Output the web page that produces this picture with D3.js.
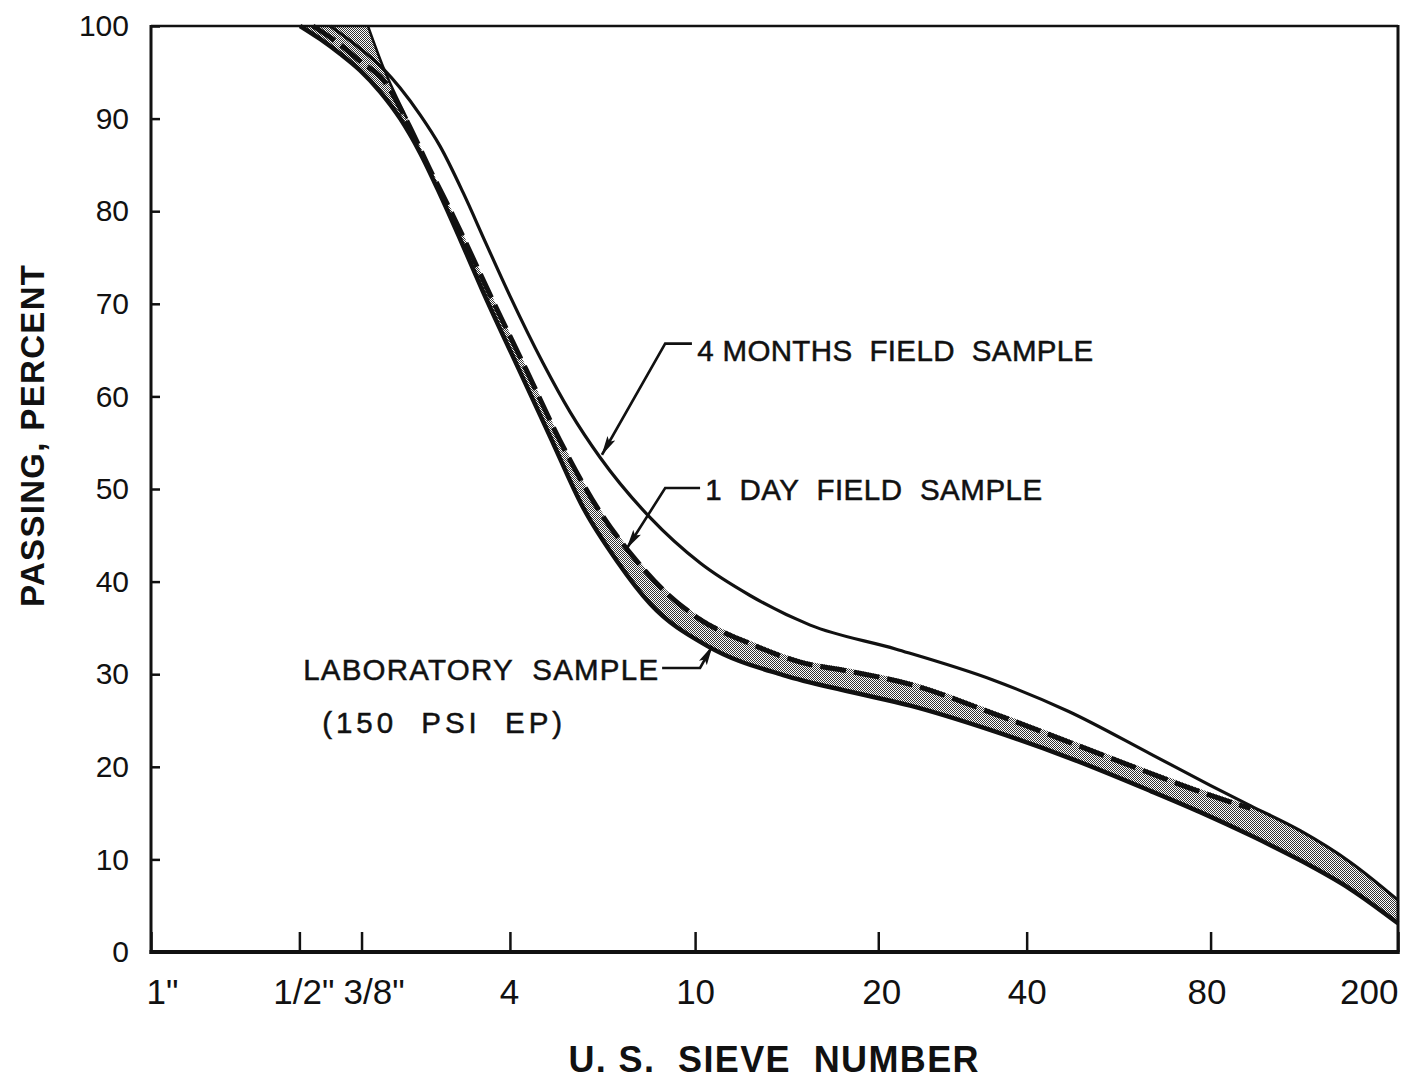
<!DOCTYPE html>
<html><head><meta charset="utf-8">
<script src="https://cdn.jsdelivr.net/npm/d3@7"></script>
<style>body{margin:0;background:#fff}text{font-family:"Liberation Sans",Arial,sans-serif;fill:#111}</style>
</head><body><svg id="c" width="1405" height="1081"></svg>
<script>
// ---- tick data ----
const sieveSizes = [25.4, 12.7, 9.5, 4.75, 2.0, 0.85, 0.425, 0.18, 0.075]; // sieve opening, mm
const sieveLabels = ['1"', '1/2"', '3/8"', '4', '10', '20', '40', '80', '200'];
const yTicks = [0, 10, 20, 30, 40, 50, 60, 70, 80, 90, 100];

// ---- series: 4 months field sample ----
const fourMonthsMm  = [11.00, 9.79, 8.59, 7.93, 7.225, 6.58, 5.91, 5.31, 4.745, 4.07, 3.585, 3.117, 2.467, 1.953, 1.547, 1.168, 0.7816, 0.499, 0.350, 0.2385, 0.1803, 0.1495, 0.1184, 0.0937, 0.075];
const fourMonthsPct = [100, 98.0, 95.4, 93.3, 90.4, 87.0, 82.0, 76.5, 70.8, 63.6, 58.3, 53.4, 46.9, 42.0, 38.5, 35.3, 32.7, 29.4, 26.0, 21.4, 18.0, 15.8, 13.1, 9.7, 5.6];

// ---- series: 1 day field sample (dashed) ----
const oneDayMm  = [11.92, 10.50, 9.565, 8.59, 7.68, 6.90, 6.22, 5.14, 4.385, 3.757, 3.117, 2.672, 2.30, 1.953, 1.547, 1.224, 0.969, 0.732, 0.499, 0.350, 0.2385, 0.1889, 0.1495];
const oneDayPct = [100, 98.0, 96.2, 94.2, 89.7, 84.5, 79.7, 70.3, 62.7, 55.2, 47.5, 42.7, 38.9, 35.9, 33.3, 31.3, 30.3, 28.9, 25.8, 22.7, 19.3, 17.3, 15.5];

// ---- laboratory sample band (150 psi EP): upper and lower limits ----
const labUpperMm  = [9.22, 8.59, 7.68, 6.90, 6.22, 5.14, 4.385, 3.757, 3.117, 2.672, 2.30, 1.953, 1.547, 1.224, 0.969, 0.732, 0.499, 0.350, 0.2385, 0.1889, 0.1495, 0.1184, 0.0937, 0.075];
const labUpperPct = [100, 95.6, 90.0, 84.8, 80.0, 70.6, 63.0, 55.5, 47.8, 43.0, 39.2, 36.2, 33.6, 31.6, 30.6, 29.2, 26.1, 23.0, 19.6, 17.6, 15.7, 13.1, 9.7, 5.6];
const labLowerMm  = [12.66, 11.53, 10.50, 9.565, 8.71, 7.93, 7.225, 6.58, 5.995, 5.385, 4.59, 3.94, 3.375, 2.879, 2.467, 1.882, 1.325, 0.969, 0.732, 0.499, 0.350, 0.2385, 0.1889, 0.1495, 0.1184, 0.0937, 0.075];
const labLowerPct = [100, 98.6, 97.0, 95.2, 92.9, 90.0, 86.3, 81.8, 77.0, 71.3, 63.3, 55.7, 48.0, 42.2, 37.6, 33.0, 29.9, 28.1, 26.6, 23.9, 21.0, 17.4, 15.1, 12.6, 9.9, 6.8, 3.1];

// ---- annotation anchors (data units: [mm, percent]) ----
const annotations = [
  {label: "4 MONTHS  FIELD  SAMPLE", anchor: "start", text: [1.98, 63.8], path: [[2.03, 65.7], [2.30, 65.7], [3.09, 53.7]], width: 396},
  {label: "1  DAY  FIELD  SAMPLE", anchor: "start", text: [1.908, 48.8], path: [[1.954, 50.1], [2.30, 50.1], [2.75, 43.6]], width: 337},
  {label: "LABORATORY  SAMPLE", anchor: "end", text: [2.377, 29.37], path: [[2.333, 30.67], [1.954, 30.67], [1.847, 33.0]], width: 355},
  {label: "(150  PSI  EP)", anchor: "start", text: [11.42, 23.6], path: null, width: 240}
];

const svg = d3.select("#c");
const L = 151, R = 1398, T = 26, B = 952;
const x = d3.scaleLog().domain([25.4, 0.075]).range([L, R]);
const y = d3.scaleLinear().domain([0, 100]).range([B, T]);
const ink = "#111";

const defs = svg.append("defs");
const pat = defs.append("pattern").attr("id", "stip").attr("width", 2).attr("height", 2).attr("patternUnits", "userSpaceOnUse");
pat.append("rect").attr("width", 2).attr("height", 2).attr("fill", "#fff");
pat.append("rect").attr("width", 1).attr("height", 1).attr("fill", "#333");
pat.append("rect").attr("x", 1).attr("y", 1).attr("width", 1).attr("height", 1).attr("fill", "#333");
defs.append("marker").attr("id", "arr").attr("markerUnits", "userSpaceOnUse")
  .attr("viewBox", "0 0 20 10").attr("refX", 19).attr("refY", 5)
  .attr("markerWidth", 20).attr("markerHeight", 10).attr("orient", "auto")
  .append("path").attr("d", "M0,0.5 L20,5 L0,9.5 L4,5 Z").attr("fill", ink);

const zip = (a, b) => a.map((v, i) => [v, b[i]]);
const line = d3.line().x(d => x(d[0])).y(d => y(d[1])).curve(d3.curveMonotoneX);

const upper = zip(labUpperMm, labUpperPct);
const lower = zip(labLowerMm, labLowerPct);
const plot = svg.append("g");

// band fill
plot.append("path")
  .attr("d", line(upper) + line(lower.slice().reverse()).replace(/^M/, "L") + "Z")
  .attr("fill", "url(#stip)").attr("stroke", "none");
// solid upper limit where the dashed field curve does not run along it
plot.append("path").attr("d", line(upper.filter(d => d[0] >= 7.6))).attr("fill", "none").attr("stroke", ink).attr("stroke-width", 2.5);
plot.append("path").attr("d", line(lower)).attr("fill", "none").attr("stroke", ink).attr("stroke-width", 4.5);
plot.append("path").attr("d", line(zip(oneDayMm, oneDayPct))).attr("fill", "none").attr("stroke", ink)
  .attr("stroke-width", 5).attr("stroke-dasharray", "26,8");
plot.append("path").attr("d", line(zip(fourMonthsMm, fourMonthsPct))).attr("fill", "none").attr("stroke", ink).attr("stroke-width", 3.2);

// axes
const yAxis = svg.append("g").attr("transform", `translate(${L},0)`)
  .call(d3.axisLeft(y).tickValues(yTicks).tickSize(-9).tickPadding(22));
yAxis.select(".domain").remove();
yAxis.selectAll(".tick line").attr("stroke", ink).attr("stroke-width", 2.5);
yAxis.selectAll(".tick text").attr("font-size", 30).attr("font-family", "DejaVu Sans, sans-serif").attr("fill", ink);

const dxMap = {'1"': -5, '1/2"': 4, '3/8"': 12, '4': -1, '10': 0, '20': 3, '40': 0, '80': -4, '200': 0};
const xAxis = svg.append("g").attr("transform", `translate(0,${B})`)
  .call(d3.axisBottom(x).tickValues(sieveSizes).tickFormat((d, i) => sieveLabels[i]).tickSize(-20).tickPadding(27));
xAxis.select(".domain").remove();
xAxis.selectAll(".tick line").attr("stroke", ink).attr("stroke-width", 2.5);
xAxis.selectAll(".tick text").attr("font-size", 35).attr("font-family", "Liberation Sans, Arial, sans-serif").attr("fill", ink)
  .attr("text-anchor", (d, i) => i === 0 ? "start" : (i === sieveLabels.length - 1 ? "end" : "middle"))
  .attr("dx", (d, i) => dxMap[sieveLabels[i]]);

// frame
const frame = svg.append("g").attr("stroke", ink).attr("fill", "none");
frame.append("line").attr("x1", L).attr("x2", L).attr("y1", T - 1).attr("y2", B + 2).attr("stroke-width", 3);
frame.append("line").attr("x1", L).attr("x2", R).attr("y1", T).attr("y2", T).attr("stroke-width", 2.5);
frame.append("line").attr("x1", R).attr("x2", R).attr("y1", T - 1).attr("y2", B + 2).attr("stroke-width", 3);
frame.append("line").attr("x1", L - 1.5).attr("x2", R + 1.5).attr("y1", B).attr("y2", B).attr("stroke-width", 4);

// titles
svg.append("text").attr("x", (L + R) / 2 - 1).attr("y", 1072).attr("text-anchor", "middle")
  .style("white-space", "pre")
  .attr("font-size", 36).attr("font-weight", "bold").attr("textLength", 410).attr("lengthAdjust", "spacing")
  .text("U. S.  SIEVE  NUMBER");
svg.append("text").attr("transform", "translate(44,436) rotate(-90)").attr("text-anchor", "middle")
  .attr("font-size", 33).attr("font-weight", "bold").attr("textLength", 342).attr("lengthAdjust", "spacing")
  .text("PASSING, PERCENT");

// annotations
annotations.forEach(a => {
  if (a.path) {
    svg.append("path").attr("d", d3.line().x(d => x(d[0])).y(d => y(d[1]))(a.path))
      .attr("fill", "none").attr("stroke", ink).attr("stroke-width", 2.6).attr("marker-end", "url(#arr)");
  }
  svg.append("text").attr("x", x(a.text[0])).attr("y", y(a.text[1])).attr("text-anchor", a.anchor)
    .style("white-space", "pre").attr("font-family", "DejaVu Sans, sans-serif")
    .attr("stroke", ink).attr("stroke-width", 0.5)
    .attr("font-size", 29.5).attr("textLength", a.width).attr("lengthAdjust", "spacing").text(a.label);
});
</script></body></html>
